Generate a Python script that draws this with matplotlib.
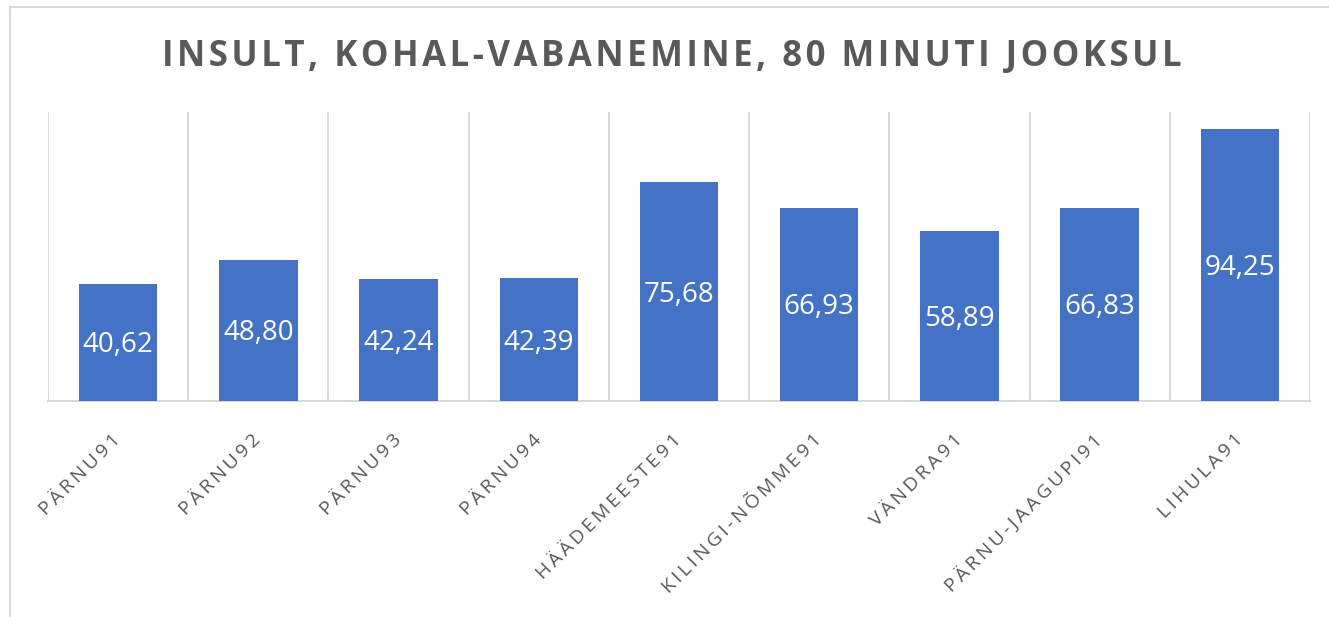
import matplotlib.pyplot as plt
from matplotlib.lines import Line2D

categories = ['PÄRNU91', 'PÄRNU92', 'PÄRNU93', 'PÄRNU94', 'HÄÄDEMEESTE91',
              'KILINGI-NÕMME91', 'VÄNDRA91', 'PÄRNU-JAAGUPI91', 'LIHULA91']
values = [40.62, 48.80, 42.24, 42.39, 75.68, 66.93, 58.89, 66.83, 94.25]
title = 'INSULT, KOHAL-VABANEMINE, 80 MINUTI JOOKSUL'

bar_color = '#4472C4'
grid_color = '#d9d9d9'
text_color = '#595959'

plt.rcParams['font.family'] = ['Open Sans', 'DejaVu Sans']


def spaced(s, sep='\u2002'):
    # imitate Excel's character spacing
    return sep.join(s)


fig = plt.figure(figsize=(13.29, 6.17), dpi=100)
ax = fig.add_axes([48 / 1329, 1 - 401 / 617, (1310 - 48) / 1329, (401 - 112) / 617])

x = range(len(categories))
bars = ax.bar(x, values, width=0.56, color=bar_color, zorder=3)

for b, v in zip(bars, values):
    ax.text(b.get_x() + b.get_width() / 2, v / 2 - 1, f'{v:.2f}'.replace('.', ','),
            ha='center', va='center', color='white', fontsize=20, zorder=4)

ax.set_xlim(-0.5, len(categories) - 0.5)
ax.set_ylim(0, 100)

# vertical gridlines between categories
for i in range(len(categories) + 1):
    ax.axvline(i - 0.5, color=grid_color, lw=1.5, zorder=1)

for s in ['top', 'left', 'right']:
    ax.spines[s].set_visible(False)
ax.spines['bottom'].set_color(grid_color)
ax.spines['bottom'].set_linewidth(1.5)
ax.set_yticks([])
ax.set_xticks(list(x))
ax.set_xticklabels([spaced(c, '\u2009') for c in categories], rotation=45, ha='right',
                   va='center', rotation_mode='anchor', fontsize=14, color=text_color)
ax.tick_params(axis='x', length=0, pad=26)

fig.text(672 / 1329, 1 - 57 / 617, spaced(title, '\u200a'), ha='center', va='center',
         fontsize=25, fontweight='bold', color=text_color)

# chart border
bx = 10 / 1329
by = 1 - 7 / 617
fig.add_artist(Line2D([bx, bx], [0, by], color=grid_color, lw=1.5))
fig.add_artist(Line2D([bx, 1], [by, by], color=grid_color, lw=1.5))

fig.savefig('out.png', dpi=100)
